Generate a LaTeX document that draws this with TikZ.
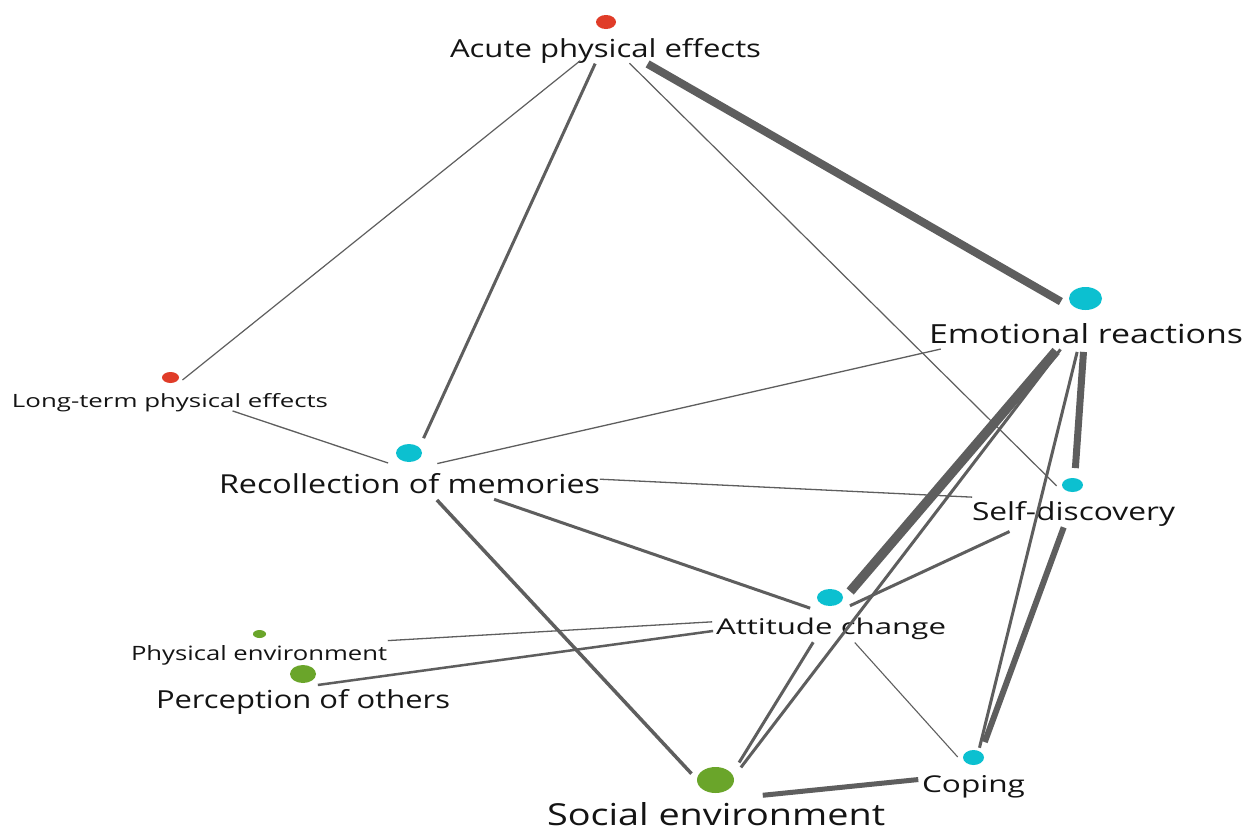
\documentclass[tikz,border=0pt]{standalone}
\usepackage{fontspec}
\setmainfont{Open Sans}
\usepackage{graphicx}
\usetikzlibrary{shapes.geometric}
\definecolor{ered}{HTML}{E03C28}
\definecolor{ecyan}{HTML}{0CC0D0}
\definecolor{egreen}{HTML}{6AA52A}
\definecolor{egray}{HTML}{5E5E5E}
\definecolor{etext}{HTML}{141414}
\newcommand\fitlabel[3]{\resizebox{#1pt}{#2pt}{#3}}
\begin{document}
\begin{tikzpicture}[x=1pt,y=-1pt,
  dotnode/.style={ellipse,inner sep=0pt,outer sep=0pt,draw=none},
  lbl/.style={inner sep=0pt,outer sep=0pt,anchor=base west,text=etext},
  edge/.style={draw=egray,line cap=butt}]
\useasboundingbox (0,0) rectangle (1247,830);
\fill[white] (0,0) rectangle (1247,830);
% hubs
\coordinate (acute) at (606,40);
\coordinate (longterm) at (170,390);
\coordinate (emot) at (1086,316);
\coordinate (recoll) at (409,470);
\coordinate (self) at (1073,502);
\coordinate (att) at (830,615);
\coordinate (phys) at (260,648);
\coordinate (perc) at (303,687);
\coordinate (social) at (716,800);
\coordinate (coping) at (973,774);
% labels
\node[lbl] (acute-lbl) at (450,57) {\fitlabel{311}{19}{Acute physical effects}};
\node[lbl] (emot-lbl) at (929,343) {\fitlabel{314}{20}{Emotional reactions}};
\node[lbl] (longterm-lbl) at (12,407) {\fitlabel{316}{14}{Long-term physical effects}};
\node[lbl] (recoll-lbl) at (219,493) {\fitlabel{381}{20}{Recollection of memories}};
\node[lbl] (self-lbl) at (972,520) {\fitlabel{203}{19}{Self-discovery}};
\node[lbl] (att-lbl) at (716,634) {\fitlabel{230}{16.5}{Attitude change}};
\node[lbl] (phys-lbl) at (131,660) {\fitlabel{256}{15}{Physical environment}};
\node[lbl] (perc-lbl) at (156,708) {\fitlabel{294}{19}{Perception of others}};
\node[lbl] (social-lbl) at (547,825) {\fitlabel{338}{23}{Social environment}};
\node[lbl] (coping-lbl) at (922,792) {\fitlabel{103}{17}{Coping}};
% edges
\draw[edge,line width=1.2pt,shorten <=33pt,shorten >=16pt] (acute) -- (longterm);
\draw[edge,line width=3pt,shorten <=26pt,shorten >=35pt] (acute) -- (recoll);
\draw[edge,line width=1.2pt,shorten <=33pt,shorten >=23pt] (acute) -- (self);
\draw[edge,line width=8pt,shorten <=48pt,shorten >=29pt] (acute) -- (emot);
\draw[edge,line width=1.3pt,shorten <=66pt,shorten >=22pt] (longterm) -- (recoll);
\draw[edge,line width=1.3pt,shorten <=29pt,shorten >=149pt] (recoll) -- (emot);
\draw[edge,line width=1.3pt,shorten <=191pt,shorten >=101pt] (recoll) -- (self);
\draw[edge,line width=3pt,shorten <=90pt,shorten >=21pt] (recoll) -- (att);
\draw[edge,line width=3.5pt,shorten <=41pt,shorten >=36pt] (recoll) -- (social);
\draw[edge,line width=9.5pt,shorten <=46pt,shorten >=31pt] (emot) -- (att);
\draw[edge,line width=3pt,shorten <=42pt,shorten >=41pt] (emot) -- (social);
\draw[edge,line width=7pt,shorten <=36pt,shorten >=34pt] (emot) -- (self);
\draw[edge,line width=3pt,shorten <=37pt,shorten >=27pt] (emot) -- (coping);
\draw[edge,line width=6pt,shorten <=27pt,shorten >=34pt] (self) -- (coping);
\draw[edge,line width=3pt,shorten <=70pt,shorten >=22pt] (self) -- (att);
\draw[edge,line width=1.3pt,shorten <=118pt,shorten >=128pt] (att) -- (phys);
\draw[edge,line width=2.5pt,shorten <=118pt,shorten >=15pt] (att) -- (perc);
\draw[edge,line width=3pt,shorten <=32pt,shorten >=44pt] (att) -- (social);
\draw[edge,line width=1.1pt,shorten <=37pt,shorten >=23pt] (att) -- (coping);
\draw[edge,line width=5pt,shorten <=47pt,shorten >=55pt] (social) -- (coping);
% dots
\node[dotnode,fill=ered,minimum width=20pt,minimum height=14pt] (acute-dot) at (606,22) {};
\node[dotnode,fill=ered,minimum width=17pt,minimum height=11pt] (longterm-dot) at (170.5,377.5) {};
\node[dotnode,fill=ecyan,minimum width=33pt,minimum height=23pt] (emot-dot) at (1085.5,298.5) {};
\node[dotnode,fill=ecyan,minimum width=26pt,minimum height=18pt] (recoll-dot) at (409,453) {};
\node[dotnode,fill=ecyan,minimum width=21pt,minimum height=14pt] (self-dot) at (1072.5,485) {};
\node[dotnode,fill=ecyan,minimum width=26pt,minimum height=17pt] (att-dot) at (830,597.5) {};
\node[dotnode,fill=egreen,minimum width=13pt,minimum height=8pt] (phys-dot) at (259.5,634) {};
\node[dotnode,fill=egreen,minimum width=26pt,minimum height=18pt] (perc-dot) at (303,674) {};
\node[dotnode,fill=egreen,minimum width=37pt,minimum height=26pt] (social-dot) at (715.5,780) {};
\node[dotnode,fill=ecyan,minimum width=21pt,minimum height=15pt] (coping-dot) at (973.5,757.5) {};
\end{tikzpicture}
\end{document}
